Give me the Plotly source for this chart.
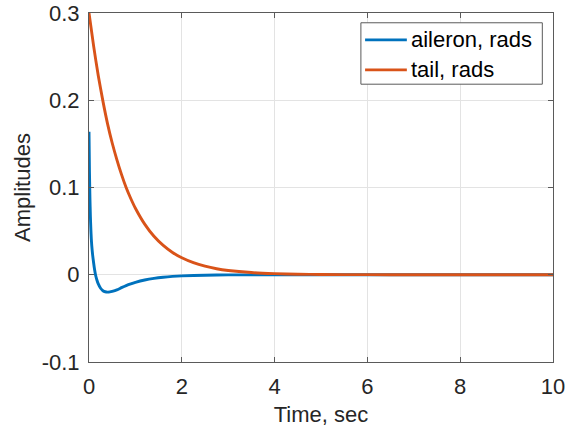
import plotly.graph_objects as go

# Response of the two control surfaces
time_aileron = [0, 0.01, 0.02, 0.03, 0.04, 0.05, 0.06, 0.08, 0.10, 0.12, 0.14, 0.17,
                0.20, 0.25, 0.30, 0.35, 0.40, 0.45, 0.50, 0.60, 0.70, 0.80, 0.90, 1.0,
                1.2, 1.4, 1.6, 1.8, 2.0, 2.5, 3.0, 3.5, 4.0, 5.0, 6.0, 7.0, 8.0, 9.0, 10.0]
aileron = [0.164, 0.118, 0.088, 0.067, 0.052, 0.041, 0.033, 0.022, 0.0135, 0.006, 0.0, -0.006,
           -0.0105, -0.0155, -0.0183, -0.0195, -0.0199, -0.0197, -0.0191, -0.0174, -0.0148, -0.0124, -0.0104, -0.0087,
           -0.0060, -0.0041, -0.0028, -0.0019, -0.0013, -0.0005, -0.0002, -0.0001, 0.0, 0.0, 0.0, 0.0, 0.0, 0.0, 0.0]

time_tail = [0, 0.1, 0.2, 0.3, 0.4, 0.5, 0.6, 0.7, 0.8, 0.9, 1.0, 1.2, 1.4, 1.6, 1.8,
             2.0, 2.25, 2.5, 2.75, 3.0, 3.5, 4.0, 4.5, 5.0, 6.0, 7.0, 8.0, 9.0, 10.0]
tail = [0.300, 0.262, 0.228, 0.199, 0.173, 0.151, 0.132, 0.115, 0.100, 0.0874, 0.0762, 0.0580, 0.0441, 0.0336, 0.0255,
        0.0194, 0.0138, 0.0098, 0.0069, 0.0049, 0.0025, 0.0013, 0.0006, 0.0003, 0.0001, 0.0, 0.0, 0.0, 0.0]

series_names = ["aileron, rads", "tail, rads"]
series_colors = ["#0072BD", "#D95319"]

x_ticks = [0, 2, 4, 6, 8, 10]
y_ticks = [-0.1, 0, 0.1, 0.2, 0.3]
y_tick_text = ["-0.1", "0", "0.1", "0.2", "0.3"]

FONT = "Liberation Sans, Arial, sans-serif"
TXT = "#262626"
AX = "#5a5a5a"

fig = go.Figure()
for t, y, name, col in zip([time_aileron, time_tail], [aileron, tail], series_names, series_colors):
    fig.add_trace(go.Scatter(x=t, y=y, mode="lines", name=name,
                             line=dict(color=col, width=2.9, shape="spline", smoothing=0.6),
                             showlegend=False))

axis_common = dict(
    showline=True, linecolor=AX, linewidth=1, mirror="ticks",
    ticks="inside", ticklen=5, tickwidth=1, tickcolor=AX,
    showgrid=True, gridcolor="#e3e3e3", gridwidth=1, zeroline=False,
    tickfont=dict(family=FONT, size=22, color=TXT), automargin=False,
)
fig.update_xaxes(range=[0, 10], tickvals=x_ticks, ticktext=[str(v) for v in x_ticks],
                 title=dict(text="Time, sec", font=dict(family=FONT, size=22, color=TXT), standoff=8),
                 ticklabelstandoff=5, **axis_common)
fig.update_yaxes(range=[-0.1, 0.3], tickvals=y_ticks, ticktext=y_tick_text,
                 title=dict(text="Amplitudes", font=dict(family=FONT, size=22, color=TXT), standoff=4),
                 ticklabelstandoff=4, **axis_common)

# Legend box drawn in paper coordinates
fig.add_shape(type="rect", xref="paper", yref="paper", x0=0.586, x1=0.977, y0=0.796, y1=0.972,
              line=dict(color=AX, width=1), fillcolor="white", layer="above")
for yy, name, col in zip([0.923, 0.837], series_names, series_colors):
    fig.add_shape(type="line", xref="paper", yref="paper", x0=0.595, x1=0.685, y0=yy, y1=yy,
                  line=dict(color=col, width=2.9), layer="above")
    fig.add_annotation(xref="paper", yref="paper", x=0.690, y=yy, text=name, showarrow=False,
                       xanchor="left", yanchor="middle",
                       font=dict(family=FONT, size=22, color="#000000"))

fig.update_layout(
    width=570, height=432,
    margin=dict(l=89, r=17, t=13, b=70),
    paper_bgcolor="white", plot_bgcolor="white",
    font=dict(family=FONT, color=TXT),
)

fig.write_html("out.html")
